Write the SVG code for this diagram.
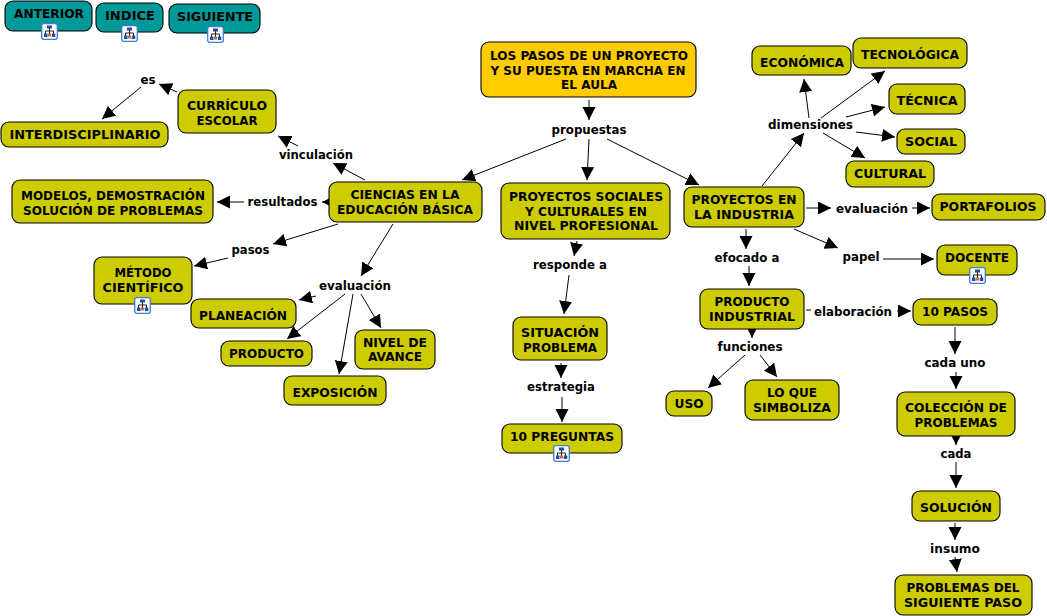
<svg xmlns="http://www.w3.org/2000/svg" width="1047" height="616" viewBox="0 0 1047 616">
<style>
text{font-family:"DejaVu Sans","Liberation Sans",sans-serif;font-weight:bold;font-size:12px;fill:#000;text-anchor:middle}
.n{fill:#cccc00;stroke:#000;stroke-width:1.1}
.o{fill:#ffcc00;stroke:#000;stroke-width:1.1}
.t{fill:#009999;stroke:#000;stroke-width:1.1}
#connectors line{stroke:#000;stroke-width:1;marker-end:url(#a)}
#connectors line.p{marker-end:none}
</style>
<defs>
<marker id="a" markerUnits="userSpaceOnUse" markerWidth="14" markerHeight="14" refX="13" refY="6.500" orient="auto"><path d="M0 0L13 6.500L0 13Z" fill="#000"/></marker>
<symbol id="i" viewBox="0 0 17 17">
<rect x=".7" y=".7" width="15.600" height="15.600" rx="2" fill="#fff" stroke="#3a7fd0" stroke-width="1.300"/>
<path d="M8.500 5V11M4.500 11V8H12.500V11" fill="none" stroke="#222" stroke-width="1"/>
<rect x="6" y="2.500" width="5" height="3" fill="#2a4aa0"/><rect x="3" y="10.500" width="3.500" height="3.500" fill="#2a4aa0"/><rect x="10.800" y="10.500" width="3.500" height="3.500" fill="#2a4aa0"/><rect x="7" y="10.500" width="3" height="3" fill="#c87030"/>
</symbol>
</defs>
<g id="connectors">
<line x1="589" y1="100" x2="589" y2="120"/>
<line x1="566" y1="139" x2="462" y2="180"/>
<line x1="589" y1="139" x2="587" y2="180"/>
<line x1="607" y1="139" x2="699" y2="185"/>
<line x1="141" y1="87" x2="102" y2="119"/>
<line x1="177" y1="92" x2="159" y2="84"/>
<line x1="365" y1="180" x2="333" y2="163"/>
<line x1="298" y1="146" x2="278" y2="136"/>
<line x1="329" y1="202" x2="322" y2="202"/>
<line x1="244" y1="202" x2="217" y2="202"/>
<line x1="338" y1="224" x2="273" y2="244"/>
<line x1="228" y1="258" x2="194" y2="266"/>
<line x1="393" y1="224" x2="361" y2="276"/>
<line x1="316" y1="296" x2="299" y2="300"/>
<line x1="345" y1="294" x2="287" y2="339"/>
<line x1="353" y1="294" x2="339" y2="374"/>
<line x1="361" y1="294" x2="381" y2="328"/>
<line x1="762" y1="186" x2="804" y2="133"/>
<line x1="809" y1="118" x2="804" y2="79"/>
<line x1="821" y1="118" x2="885" y2="71"/>
<line x1="846" y1="117" x2="885" y2="107"/>
<line x1="856" y1="132" x2="895" y2="137"/>
<line x1="823" y1="133" x2="865" y2="158"/>
<line x1="806" y1="208" x2="831" y2="208"/>
<line x1="912" y1="208" x2="930" y2="208"/>
<line x1="794" y1="229" x2="838" y2="248"/>
<line x1="883" y1="259" x2="934" y2="259"/>
<line x1="746" y1="229" x2="746" y2="249"/>
<line x1="749" y1="266" x2="749" y2="286"/>
<line class="p" x1="806" y1="310" x2="811" y2="310"/>
<line x1="897" y1="311" x2="911" y2="311"/>
<line x1="752" y1="328" x2="752" y2="338"/>
<line x1="745" y1="355" x2="708" y2="388"/>
<line x1="760" y1="355" x2="777" y2="377"/>
<line x1="577" y1="241" x2="574" y2="256"/>
<line x1="569" y1="275" x2="564" y2="314"/>
<line x1="561" y1="363" x2="561" y2="378"/>
<line x1="562" y1="397" x2="562" y2="422"/>
<line x1="955" y1="327" x2="955" y2="354"/>
<line x1="956" y1="372" x2="956" y2="389"/>
<line x1="956" y1="434" x2="956" y2="445"/>
<line x1="956" y1="462" x2="956" y2="488"/>
<line x1="955" y1="523" x2="955" y2="540"/>
<line x1="955" y1="557" x2="957" y2="572"/>
</g>
<g id="labels">
<text lengthAdjust="spacingAndGlyphs" textLength="75" id="l-propuestas" x="589" y="134">propuestas</text>
<text lengthAdjust="spacingAndGlyphs" textLength="15" id="l-es" x="148" y="84">es</text>
<text lengthAdjust="spacingAndGlyphs" textLength="74" id="l-vinculacion" x="316" y="159">vinculación</text>
<text lengthAdjust="spacingAndGlyphs" textLength="70" id="l-resultados" x="282.500" y="206">resultados</text>
<text lengthAdjust="spacingAndGlyphs" textLength="38" id="l-pasos" x="250.500" y="254">pasos</text>
<text lengthAdjust="spacingAndGlyphs" textLength="72" id="l-evaluacion1" x="355" y="290">evaluación</text>
<text lengthAdjust="spacingAndGlyphs" textLength="85" id="l-dimensiones" x="810.500" y="129">dimensiones</text>
<text lengthAdjust="spacingAndGlyphs" textLength="72" id="l-evaluacion2" x="872" y="213">evaluación</text>
<text lengthAdjust="spacingAndGlyphs" textLength="37" id="l-papel" x="861" y="261">papel</text>
<text lengthAdjust="spacingAndGlyphs" textLength="65" id="l-efocado" x="747" y="262">efocado a</text>
<text lengthAdjust="spacingAndGlyphs" textLength="78" id="l-elaboracion" x="853" y="316">elaboración</text>
<text lengthAdjust="spacingAndGlyphs" textLength="65" id="l-funciones" x="750" y="351">funciones</text>
<text lengthAdjust="spacingAndGlyphs" textLength="74" id="l-responde" x="570" y="269">responde a</text>
<text lengthAdjust="spacingAndGlyphs" textLength="68" id="l-estrategia" x="561" y="391">estrategia</text>
<text lengthAdjust="spacingAndGlyphs" textLength="61" id="l-cadauno" x="955" y="367">cada uno</text>
<text lengthAdjust="spacingAndGlyphs" textLength="31" id="l-cada" x="956" y="458">cada</text>
<text lengthAdjust="spacingAndGlyphs" textLength="50" id="l-insumo" x="955" y="553">insumo</text>
</g>
<g id="n-anterior"><rect class="t" x="5" y="1" width="87" height="30" rx="8"/><text lengthAdjust="spacingAndGlyphs" textLength="70" x="49" y="18">ANTERIOR</text><use href="#i" x="41" y="23" width="17" height="17"/></g>
<g id="n-indice"><rect class="t" x="96" y="3" width="67" height="29" rx="8"/><text lengthAdjust="spacingAndGlyphs" textLength="50" x="130" y="20">INDICE</text><use href="#i" x="121" y="25" width="17" height="17"/></g>
<g id="n-siguiente"><rect class="t" x="169" y="4" width="91" height="29" rx="8"/><text lengthAdjust="spacingAndGlyphs" textLength="76" x="215" y="21">SIGUIENTE</text><use href="#i" x="207" y="26" width="17" height="17"/></g>
<g id="n-titulo"><rect class="o" x="481" y="42" width="215" height="55" rx="8"/><text lengthAdjust="spacingAndGlyphs" textLength="198" x="589" y="60">LOS PASOS DE UN PROYECTO</text><text lengthAdjust="spacingAndGlyphs" textLength="195" x="588" y="75">Y SU PUESTA EN MARCHA EN</text><text lengthAdjust="spacingAndGlyphs" textLength="56" x="589" y="89">EL AULA</text></g>
<g id="n-curriculo"><rect class="n" x="178" y="90" width="98" height="43" rx="8"/><text lengthAdjust="spacingAndGlyphs" textLength="80" x="227" y="110">CURRÍCULO</text><text lengthAdjust="spacingAndGlyphs" textLength="61" x="227" y="125">ESCOLAR</text></g>
<g id="n-interdisciplinario"><rect class="n" x="1" y="122" width="167" height="25" rx="8"/><text lengthAdjust="spacingAndGlyphs" textLength="151" x="85" y="139">INTERDISCIPLINARIO</text></g>
<g id="n-ciencias"><rect class="n" x="329" y="182" width="153" height="40" rx="8"/><text lengthAdjust="spacingAndGlyphs" textLength="109" x="405" y="199">CIENCIAS EN LA</text><text lengthAdjust="spacingAndGlyphs" textLength="136" x="405" y="214">EDUCACIÓN BÁSICA</text></g>
<g id="n-modelos"><rect class="n" x="12" y="180" width="201" height="43" rx="8"/><text lengthAdjust="spacingAndGlyphs" textLength="184" x="113" y="200">MODELOS, DEMOSTRACIÓN</text><text lengthAdjust="spacingAndGlyphs" textLength="180" x="113" y="215">SOLUCIÓN DE PROBLEMAS</text></g>
<g id="n-metodo"><rect class="n" x="94" y="257" width="98" height="47" rx="8"/><text lengthAdjust="spacingAndGlyphs" textLength="57" x="143" y="277">MÉTODO</text><text lengthAdjust="spacingAndGlyphs" textLength="81" x="143" y="292">CIENTÍFICO</text><use href="#i" x="134" y="297" width="17" height="17"/></g>
<g id="n-planeacion"><rect class="n" x="191" y="299" width="105" height="29" rx="8"/><text lengthAdjust="spacingAndGlyphs" textLength="88" x="243" y="320">PLANEACIÓN</text></g>
<g id="n-producto"><rect class="n" x="221" y="341" width="91" height="25" rx="8"/><text lengthAdjust="spacingAndGlyphs" textLength="75" x="266.500" y="358">PRODUCTO</text></g>
<g id="n-nivel"><rect class="n" x="355" y="330" width="80" height="39" rx="8"/><text lengthAdjust="spacingAndGlyphs" textLength="64" x="395" y="347">NIVEL DE</text><text lengthAdjust="spacingAndGlyphs" textLength="54" x="395" y="361">AVANCE</text></g>
<g id="n-exposicion"><rect class="n" x="284" y="376" width="102" height="29" rx="8"/><text lengthAdjust="spacingAndGlyphs" textLength="85" x="335" y="397">EXPOSICIÓN</text></g>
<g id="n-economica"><rect class="n" x="752" y="46" width="99" height="29" rx="8"/><text lengthAdjust="spacingAndGlyphs" textLength="84" x="802" y="67">ECONÓMICA</text></g>
<g id="n-tecnologica"><rect class="n" x="853" y="38" width="114" height="30" rx="8"/><text lengthAdjust="spacingAndGlyphs" textLength="98" x="910" y="59">TECNOLÓGICA</text></g>
<g id="n-tecnica"><rect class="n" x="889" y="84" width="76" height="30" rx="8"/><text lengthAdjust="spacingAndGlyphs" textLength="61" x="927" y="105">TÉCNICA</text></g>
<g id="n-social"><rect class="n" x="897" y="129" width="68" height="25" rx="8"/><text lengthAdjust="spacingAndGlyphs" textLength="52" x="931" y="146">SOCIAL</text></g>
<g id="n-cultural"><rect class="n" x="846" y="161" width="88" height="26" rx="8"/><text lengthAdjust="spacingAndGlyphs" textLength="72" x="890" y="178">CULTURAL</text></g>
<g id="n-sociales"><rect class="n" x="501" y="183" width="169" height="56" rx="8"/><text lengthAdjust="spacingAndGlyphs" textLength="154" x="586" y="201">PROYECTOS SOCIALES</text><text lengthAdjust="spacingAndGlyphs" textLength="122" x="586" y="216">Y CULTURALES EN</text><text lengthAdjust="spacingAndGlyphs" textLength="144" x="586" y="230">NIVEL PROFESIONAL</text></g>
<g id="n-industria"><rect class="n" x="684" y="187" width="120" height="40" rx="8"/><text lengthAdjust="spacingAndGlyphs" textLength="105" x="744" y="204">PROYECTOS EN</text><text lengthAdjust="spacingAndGlyphs" textLength="100" x="744" y="219">LA INDUSTRIA</text></g>
<g id="n-portafolios"><rect class="n" x="932" y="194" width="113" height="26" rx="8"/><text lengthAdjust="spacingAndGlyphs" textLength="97" x="988" y="211">PORTAFOLIOS</text></g>
<g id="n-docente"><rect class="n" x="937" y="245" width="80" height="30" rx="8"/><text lengthAdjust="spacingAndGlyphs" textLength="64" x="977" y="262">DOCENTE</text><use href="#i" x="969" y="267" width="17" height="17"/></g>
<g id="n-producto-industrial"><rect class="n" x="700" y="289" width="104" height="40" rx="8"/><text lengthAdjust="spacingAndGlyphs" textLength="75" x="752" y="306">PRODUCTO</text><text lengthAdjust="spacingAndGlyphs" textLength="86" x="752" y="321">INDUSTRIAL</text></g>
<g id="n-10pasos"><rect class="n" x="913" y="299" width="84" height="26" rx="8"/><text lengthAdjust="spacingAndGlyphs" textLength="66" x="955" y="316">10 PASOS</text></g>
<g id="n-situacion"><rect class="n" x="513" y="317" width="94" height="43" rx="8"/><text lengthAdjust="spacingAndGlyphs" textLength="78" x="560" y="337">SITUACIÓN</text><text lengthAdjust="spacingAndGlyphs" textLength="74" x="560" y="352">PROBLEMA</text></g>
<g id="n-10preguntas"><rect class="n" x="502" y="424" width="120" height="29" rx="8"/><text lengthAdjust="spacingAndGlyphs" textLength="104" x="562" y="441">10 PREGUNTAS</text><use href="#i" x="553" y="445" width="17" height="17"/></g>
<g id="n-uso"><rect class="n" x="666" y="391" width="46" height="25" rx="8"/><text lengthAdjust="spacingAndGlyphs" textLength="29" x="689" y="408">USO</text></g>
<g id="n-loque"><rect class="n" x="745" y="380" width="94" height="40" rx="8"/><text lengthAdjust="spacingAndGlyphs" textLength="50" x="792" y="397">LO QUE</text><text lengthAdjust="spacingAndGlyphs" textLength="78" x="792" y="412">SIMBOLIZA</text></g>
<g id="n-coleccion"><rect class="n" x="897" y="392" width="118" height="44" rx="8"/><text lengthAdjust="spacingAndGlyphs" textLength="102" x="956" y="412">COLECCIÓN DE</text><text lengthAdjust="spacingAndGlyphs" textLength="83" x="956" y="427">PROBLEMAS</text></g>
<g id="n-solucion"><rect class="n" x="912" y="491" width="88" height="30" rx="8"/><text lengthAdjust="spacingAndGlyphs" textLength="72" x="956" y="512">SOLUCIÓN</text></g>
<g id="n-problemas"><rect class="n" x="895" y="575" width="137" height="40" rx="8"/><text lengthAdjust="spacingAndGlyphs" textLength="113" x="963" y="592">PROBLEMAS DEL</text><text lengthAdjust="spacingAndGlyphs" textLength="118" x="963" y="607">SIGUIENTE PASO</text></g>
</svg>
